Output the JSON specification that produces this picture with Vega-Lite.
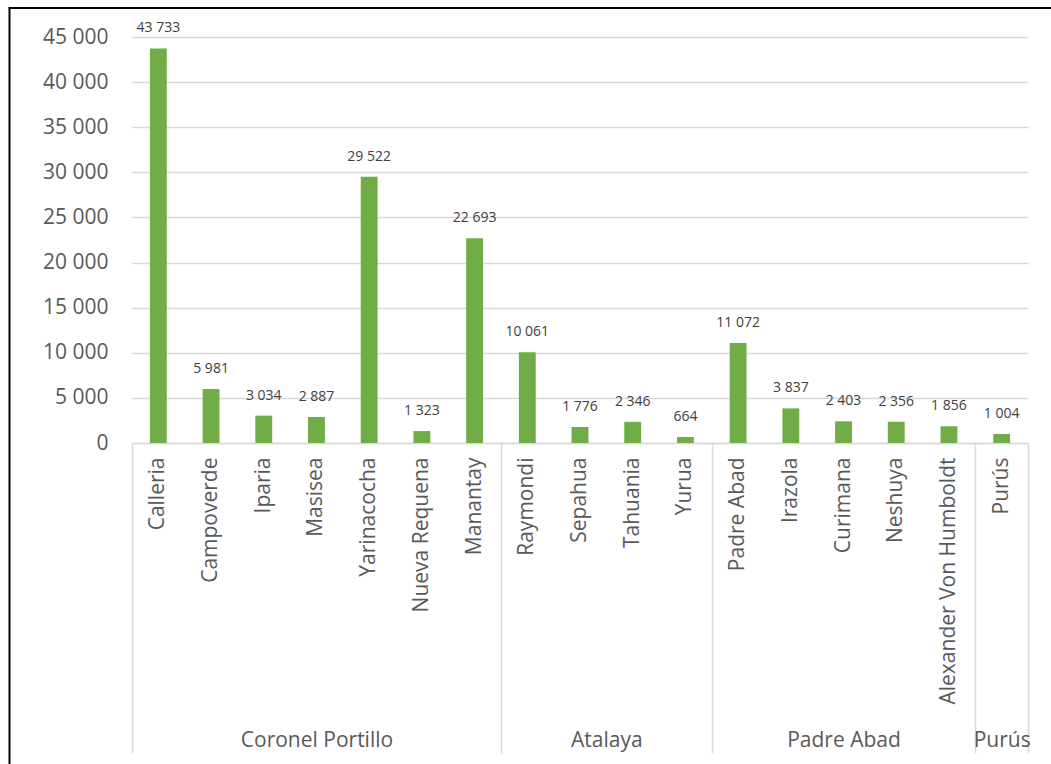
{
  "$schema": "https://vega.github.io/schema/vega-lite/v6.json",
  "width": 896,
  "height": 406,
  "autosize": {"type": "none"},
  "padding": {"left": 132, "top": 37, "right": 23, "bottom": 321},
  "background": "white",
  "config": {
    "locale": {"number": {"decimal": ",", "thousands": " ", "grouping": [3], "currency": ["", ""]}},
    "view": {"stroke": null},
    "font": "Open Sans"
  },
  "datasets": {
    "distritos": [
      {"provincia": "Coronel Portillo", "distrito": "Calleria", "poblacion": 43733},
      {"provincia": "Coronel Portillo", "distrito": "Campoverde", "poblacion": 5981},
      {"provincia": "Coronel Portillo", "distrito": "Iparia", "poblacion": 3034},
      {"provincia": "Coronel Portillo", "distrito": "Masisea", "poblacion": 2887},
      {"provincia": "Coronel Portillo", "distrito": "Yarinacocha", "poblacion": 29522},
      {"provincia": "Coronel Portillo", "distrito": "Nueva Requena", "poblacion": 1323},
      {"provincia": "Coronel Portillo", "distrito": "Manantay", "poblacion": 22693},
      {"provincia": "Atalaya", "distrito": "Raymondi", "poblacion": 10061},
      {"provincia": "Atalaya", "distrito": "Sepahua", "poblacion": 1776},
      {"provincia": "Atalaya", "distrito": "Tahuania", "poblacion": 2346},
      {"provincia": "Atalaya", "distrito": "Yurua", "poblacion": 664},
      {"provincia": "Padre Abad", "distrito": "Padre Abad", "poblacion": 11072},
      {"provincia": "Padre Abad", "distrito": "Irazola", "poblacion": 3837},
      {"provincia": "Padre Abad", "distrito": "Curimana", "poblacion": 2403},
      {"provincia": "Padre Abad", "distrito": "Neshuya", "poblacion": 2356},
      {"provincia": "Padre Abad", "distrito": "Alexander Von Humboldt", "poblacion": 1856},
      {"provincia": "Purús", "distrito": "Purús", "poblacion": 1004}
    ],
    "separadores": [{"pos": 0}, {"pos": 7}, {"pos": 11}, {"pos": 16}, {"pos": 17}],
    "provincias": [
      {"provincia": "Coronel Portillo", "centro": 3.5},
      {"provincia": "Atalaya", "centro": 9},
      {"provincia": "Padre Abad", "centro": 13.5},
      {"provincia": "Purús", "centro": 16.5}
    ],
    "marco": [{"v": 0}, {"v": 1}]
  },
  "layer": [
    {
      "data": {"name": "distritos"},
      "encoding": {
        "x": {
          "field": "distrito", "type": "nominal", "sort": null,
          "scale": {"paddingInner": 0.68, "paddingOuter": 0.34},
          "axis": {
            "orient": "bottom", "title": null, "labelAngle": -90, "labelFontSize": 21,
            "labelColor": "#595959", "labelPadding": 14, "ticks": false,
            "domainColor": "#D9D9D9", "domainWidth": 1.5, "labelLimit": 400, "grid": false
          }
        },
        "y": {
          "field": "poblacion", "type": "quantitative",
          "scale": {"domain": [0, 45000], "nice": false},
          "axis": {
            "orient": "left", "title": null,
            "values": [0, 5000, 10000, 15000, 20000, 25000, 30000, 35000, 40000, 45000],
            "format": ",d", "labelFontSize": 21, "labelColor": "#595959", "labelPadding": 24,
            "ticks": false, "domain": false, "gridColor": "#D9D9D9", "gridWidth": 1.5
          }
        }
      },
      "layer": [
        {"mark": {"type": "bar", "color": "#70AD47"}},
        {
          "mark": {"type": "text", "dy": -16, "baseline": "alphabetic", "fontSize": 14, "color": "#404040", "font": "Open Sans"},
          "encoding": {"text": {"field": "poblacion", "type": "quantitative", "format": ",d"}}
        }
      ]
    },
    {
      "data": {"name": "separadores"},
      "mark": {"type": "point", "opacity": 0},
      "encoding": {
        "x": {
          "field": "pos", "type": "quantitative",
          "scale": {"domain": [0, 17], "nice": false, "zero": false},
          "axis": {
            "orient": "bottom", "title": null, "values": [0, 7, 11, 16, 17],
            "ticks": true, "tickSize": 310, "tickColor": "#D9D9D9", "tickWidth": 1.5,
            "labels": false, "domain": false, "grid": false
          }
        }
      }
    },
    {
      "data": {"name": "provincias"},
      "mark": {"type": "point", "opacity": 0},
      "encoding": {
        "x": {
          "field": "centro", "type": "quantitative",
          "scale": {"domain": [0, 17], "nice": false, "zero": false},
          "axis": {
            "orient": "bottom", "title": null, "values": [3.5, 9, 13.5, 16.5],
            "labelExpr": "datum.value == 3.5 ? 'Coronel Portillo' : datum.value == 9 ? 'Atalaya' : datum.value == 13.5 ? 'Padre Abad' : 'Purús'",
            "ticks": false, "domain": false, "grid": false, "labelPadding": 286.5,
            "labelFontSize": 21, "labelColor": "#595959", "labelOverlap": false,
            "labelFlush": false, "labelLimit": 400, "labelBound": false
          }
        }
      }
    },
    {
      "data": {"name": "marco"},
      "mark": {"type": "point", "opacity": 0},
      "encoding": {
        "x": {
          "field": "v", "type": "quantitative",
          "scale": {"domain": [0, 1], "range": [-124, 919], "nice": false, "zero": false},
          "axis": {
            "orient": "top", "offset": 29.5, "title": null, "domainColor": "#000000",
            "domainWidth": 2, "ticks": false, "labels": false, "grid": false
          }
        },
        "y": {
          "field": "v", "type": "quantitative",
          "scale": {"domain": [0, 1], "range": [800, -30], "nice": false, "zero": false},
          "axis": {
            "orient": "left", "offset": 123, "title": null, "domainColor": "#000000",
            "domainWidth": 2, "ticks": false, "labels": false, "grid": false
          }
        }
      }
    }
  ],
  "resolve": {
    "scale": {"x": "independent", "y": "independent"},
    "axis": {"x": "independent", "y": "independent"}
  }
}
